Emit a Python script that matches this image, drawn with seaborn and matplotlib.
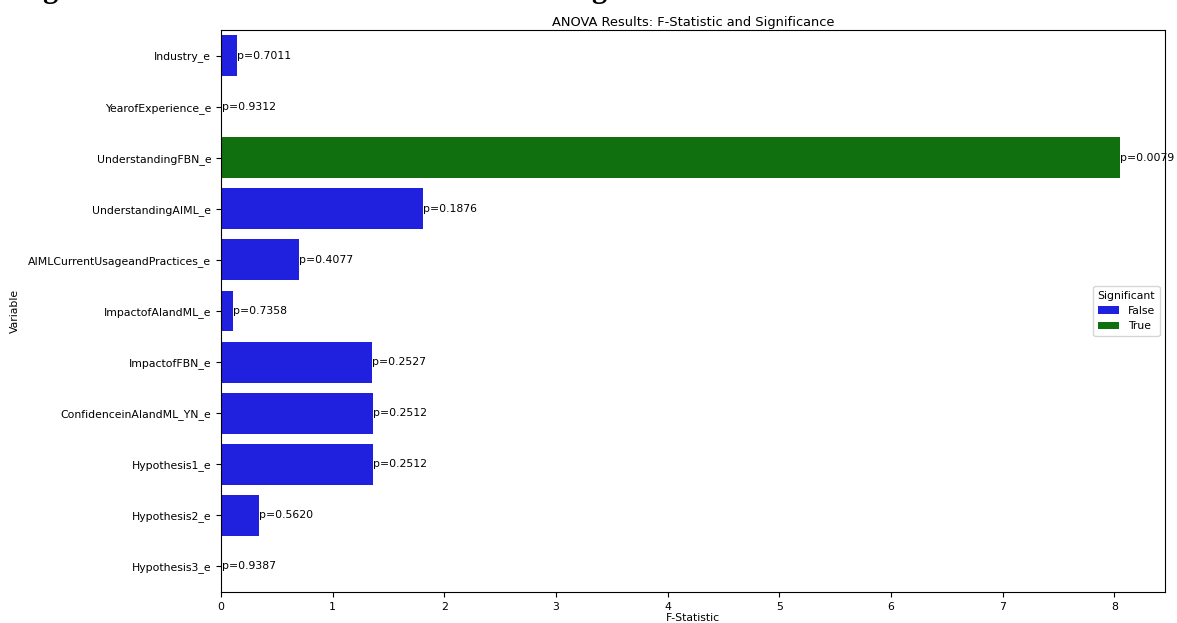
import matplotlib
matplotlib.use("Agg")
import matplotlib.pyplot as plt
import seaborn as sns
import pandas as pd

variables = [
    "Industry_e",
    "YearofExperience_e",
    "UnderstandingFBN_e",
    "UnderstandingAIML_e",
    "AIMLCurrentUsageandPractices_e",
    "ImpactofAIandML_e",
    "ImpactofFBN_e",
    "ConfidenceinAIandML_YN_e",
    "Hypothesis1_e",
    "Hypothesis2_e",
    "Hypothesis3_e",
]
f_stats = [0.14, 0.007, 8.05, 1.81, 0.70, 0.11, 1.35, 1.36, 1.36, 0.34, 0.006]
p_values = [0.7011, 0.9312, 0.0079, 0.1876, 0.4077, 0.7358, 0.2527, 0.2512, 0.2512, 0.5620, 0.9387]

df = pd.DataFrame({"Variable": variables, "F-Statistic": f_stats, "p-value": p_values})
df["Significant"] = df["p-value"] < 0.05

fs = 7.8
plt.rcParams["font.family"] = ["DejaVu Sans"]
fig = plt.figure(figsize=(11.77, 6.23), dpi=100)
ax = fig.add_axes([221 / 1177, 1 - 592 / 623, (1165 - 221) / 1177, (592 - 30) / 623])

sns.barplot(
    data=df, x="F-Statistic", y="Variable", hue="Significant",
    palette={False: "blue", True: "green"}, dodge=False, ax=ax,
)

for i, (f, p) in enumerate(zip(f_stats, p_values)):
    ax.text(f, i, f"p={p:.4f}", va="center", ha="left", fontsize=fs)

ax.set_title("ANOVA Results: F-Statistic and Significance", fontsize=9.4, pad=3)
ax.set_xlabel("F-Statistic", fontsize=fs, labelpad=1)
ax.set_ylabel("Variable", fontsize=fs, labelpad=6)
ax.tick_params(labelsize=fs)
ax.legend(title="Significant", loc="center right", fontsize=fs, title_fontsize=fs)

# document caption running off the top edge
fig.text(0.014, 1 + 3 / 623, "Figure 4: ANOVA Results: F-Statistic and Significance",
         family="Liberation Serif", fontweight="bold", fontsize=22, va="baseline", ha="left")

fig.savefig("out.png", dpi=100)
